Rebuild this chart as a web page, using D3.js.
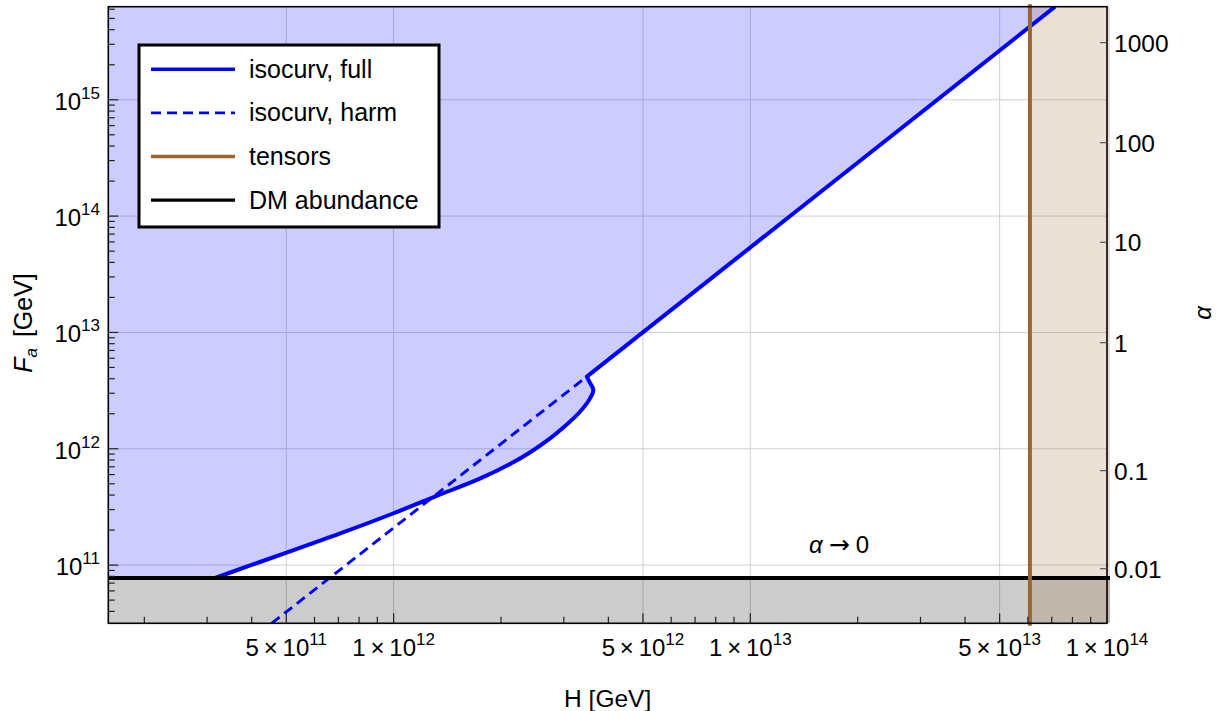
<!DOCTYPE html>
<html><head><meta charset="utf-8">
<script src="https://cdn.jsdelivr.net/npm/d3@7"></script>
<style>
body{margin:0;background:#fff;}
text{font-family:"Liberation Sans",Arial,sans-serif;fill:#000;}
</style></head><body>
<svg id="chart" width="1226" height="711"></svg>
<script>
// ---- data ----
const xDomain = [1.585e11, 1e14];           // H [GeV]
const yDomain = [3.16e10, 6.31e15];         // Fa [GeV]
// full isocurvature bound: curved part, then straight part to the top of the plot
const isoFullH  = [3.16e11, 3.96e11, 5.01e11, 7.08e11, 1.00e12, 1.32e12, 1.75e12, 2.12e12, 2.41e12, 2.74e12, 2.99e12, 3.33e12, 3.56e12, 3.63e12, 3.54e12, 3.48e12];
const isoFullFa = [7.75e10, 9.93e10, 1.28e11, 1.87e11, 2.79e11, 3.93e11, 5.56e11, 7.40e11, 9.29e11, 1.22e12, 1.52e12, 2.08e12, 2.74e12, 3.20e12, 3.75e12, 4.17e12];
const isoFullStraightH  = [3.48e12, 7.15e13];
const isoFullStraightFa = [4.17e12, 6.31e15];
const isoHarmH  = [4.55e11, 3.48e12];
const isoHarmFa = [3.16e10, 4.17e12];
const tensorH = 6.08e13;
const dmFa = 7.75e10;
const xTickValues   = [5e11, 1e12, 5e12, 1e13, 5e13, 1e14];
const xTickMantissa = ["5", "1", "5", "1", "5", "1"];
const xTickExponent = ["11", "12", "12", "13", "13", "14"];
const xGridValues   = [5e11, 1e12, 5e12, 1e13, 5e13];
const yTickValues   = [1e11, 1e12, 1e13, 1e14, 1e15];
const yTickExponent = ["11", "12", "13", "14", "15"];
const alphaTickLabels = ["1000", "100", "10", "1", "0.1", "0.01"];
const alphaTickFa     = [3.10e15, 4.28e14, 5.96e13, 8.17e12, 6.49e11, 9.31e10];
const legendLabels = ["isocurv, full", "isocurv, harm", "tensors", "DM abundance"];
const legendColors = ["#0000ff", "#0000ff", "#996633", "#000000"];
const legendDash   = [null, "10,6", null, null];

// ---- layout ----
const L = 108.3, R = 1107, T = 6.7, B = 623.3;
const svg = d3.select("#chart");
const x = d3.scaleLog().domain(xDomain).range([L, R]);
const y = d3.scaleLog().domain(yDomain).range([B, T]);

svg.append("rect").attr("width",1226).attr("height",711).attr("fill","#fff");

svg.append("defs").append("clipPath").attr("id","clip")
  .append("rect").attr("x",L).attr("y",T).attr("width",R-L+3).attr("height",B-T);

// grid lines
const grid = svg.append("g").attr("stroke","#d0d0d0").attr("stroke-width",1);
grid.selectAll("line.gx").data(xGridValues).enter().append("line")
  .attr("x1",d=>x(d)).attr("x2",d=>x(d)).attr("y1",T).attr("y2",B);
grid.selectAll("line.gy").data(yTickValues).enter().append("line")
  .attr("x1",L).attr("x2",R).attr("y1",d=>y(d)).attr("y2",d=>y(d));

const plot = svg.append("g").attr("clip-path","url(#clip)");

// full isocurvature path: smooth curved part + straight part
const fullPts = isoFullH.map((h,i)=>[h, isoFullFa[i]]);
const strPts = isoFullStraightH.map((h,i)=>[h, isoFullStraightFa[i]]);
const smooth = d3.line().x(d=>x(d[0])).y(d=>y(d[1])).curve(d3.curveCatmullRom.alpha(0.5));
const straight = d3.line().x(d=>x(d[0])).y(d=>y(d[1]));
const curvePath = smooth(fullPts) + straight(strPts).replace(/^M/, "L");
const lastPt = strPts[strPts.length-1];
const bluePath = curvePath +
  `L${x(lastPt[0])},${y(yDomain[1])}L${x(xDomain[0])},${y(yDomain[1])}L${x(xDomain[0])},${y(dmFa)}Z`;
plot.append("path").attr("d", bluePath).attr("fill","#0000ff").attr("fill-opacity",0.2);

// gray region below DM line
plot.append("rect").attr("x",x(xDomain[0])).attr("width",R-L+3)
  .attr("y",y(dmFa)).attr("height",y(yDomain[0])-y(dmFa))
  .attr("fill","#000").attr("fill-opacity",0.2);

// brown region right of tensor bound
plot.append("rect").attr("x",x(tensorH)).attr("width",x(xDomain[1])-x(tensorH)+3)
  .attr("y",y(yDomain[1])).attr("height",y(yDomain[0])-y(yDomain[1]))
  .attr("fill","#996633").attr("fill-opacity",0.2);

// harmonic isocurvature (dashed)
const harmPts = isoHarmH.map((h,i)=>[h, isoHarmFa[i]]);
plot.append("path").attr("d", straight(harmPts))
  .attr("fill","none").attr("stroke","#0000ff").attr("stroke-width",2.9).attr("stroke-dasharray","10,6");

// full isocurvature
plot.append("path").attr("d", curvePath)
  .attr("fill","none").attr("stroke","#0000ff").attr("stroke-width",4).attr("stroke-linejoin","round");

// DM abundance
plot.append("line").attr("x1",L).attr("x2",R+3).attr("y1",y(dmFa)).attr("y2",y(dmFa))
  .attr("stroke","#000").attr("stroke-width",4);

// tensors
svg.append("line").attr("x1",x(tensorH)).attr("x2",x(tensorH)).attr("y1",T-2.5).attr("y2",B+2.5)
  .attr("stroke","#996633").attr("stroke-width",4);

// frame
svg.append("rect").attr("x",L).attr("y",T).attr("width",R-L).attr("height",B-T)
  .attr("fill","none").attr("stroke","#000").attr("stroke-width",1.6);

// ticks
const tk = svg.append("g").attr("stroke","#222").attr("stroke-width",1.2);
const xMinor = x.ticks().filter(v=>v>=xDomain[0] && v<=xDomain[1]);
tk.selectAll("line.xt").data(xMinor).enter().append("line")
  .attr("x1",d=>x(d)).attr("x2",d=>x(d)).attr("y1",B)
  .attr("y2",d=> xTickValues.some(v=>Math.abs(v-d)/v<1e-6) ? B-10 : B-6.5);
const yMinor = y.ticks().filter(v=>v>=yDomain[0] && v<=yDomain[1]);
tk.selectAll("line.yt").data(yMinor).enter().append("line")
  .attr("y1",d=>y(d)).attr("y2",d=>y(d)).attr("x1",L)
  .attr("x2",d=> yTickValues.some(v=>Math.abs(v-d)/v<1e-6) ? L+10 : L+6.5);
svg.append("g").attr("stroke","#555").attr("stroke-width",1.2)
  .selectAll("line").data(alphaTickFa).enter().append("line")
  .attr("x1",R).attr("x2",R-7).attr("y1",d=>y(d)).attr("y2",d=>y(d));

// x tick labels
xTickValues.forEach((v,i)=>{
  const t = svg.append("text").attr("x",x(v)).attr("y",656).attr("text-anchor","middle").attr("font-size",24);
  t.append("tspan").text(xTickMantissa[i]);
  t.append("tspan").text("\u2009×\u2009");
  t.append("tspan").text("10");
  t.append("tspan").attr("font-size",17).attr("dy",-11).text(xTickExponent[i]);
});
// y tick labels
yTickValues.forEach((v,i)=>{
  const t = svg.append("text").attr("x",100).attr("y",y(v)+10).attr("text-anchor","end").attr("font-size",24);
  t.append("tspan").text("10");
  t.append("tspan").attr("font-size",17).attr("dy",-11).text(yTickExponent[i]);
});
// alpha tick labels
alphaTickFa.forEach((v,i)=>{
  svg.append("text").attr("x",1114).attr("y",y(v)+9).attr("font-size",24.5).text(alphaTickLabels[i]);
});

// axis labels
svg.append("text").attr("x",(L+R)/2).attr("y",707).attr("text-anchor","middle").attr("font-size",24.5).text("H [GeV]");
const yl = svg.append("text").attr("transform",`translate(32,${(T+B)/2+8}) rotate(-90)`)
  .attr("text-anchor","middle").attr("font-size",25);
yl.append("tspan").attr("font-style","italic").text("F");
yl.append("tspan").attr("font-size",17).attr("font-style","italic").attr("dy",5).text("a");
yl.append("tspan").attr("dy",-5).attr("dx",4).text(" [GeV]");
svg.append("text").attr("transform",`translate(1211,${(T+B)/2 - 2}) rotate(-90)`)
  .attr("text-anchor","middle").attr("font-size",24).attr("font-style","italic").text("α");

// alpha -> 0 annotation
const an = svg.append("text").attr("x",839).attr("y",553).attr("text-anchor","middle").attr("font-size",24);
an.append("tspan").attr("font-style","italic").text("α");
an.append("tspan").attr("font-family","DejaVu Sans").attr("font-size",25).attr("dx",6).text("→");
an.append("tspan").attr("dx",6).text("0");

// legend
const lg = svg.append("g");
lg.append("rect").attr("x",139).attr("y",45).attr("width",300).attr("height",182)
  .attr("fill","#fff").attr("stroke","#000").attr("stroke-width",3);
legendLabels.forEach((lab,i)=>{
  const yy = 69.3 + i*43.6;
  const ln = lg.append("line").attr("x1",151).attr("x2",235).attr("y1",yy).attr("y2",yy)
    .attr("stroke",legendColors[i]).attr("stroke-width", i===1?2.9:3.4);
  if (legendDash[i]) ln.attr("stroke-dasharray",legendDash[i]);
  lg.append("text").attr("x",249).attr("y",yy+8.5).attr("font-size",25).text(lab);
});
</script>
</body></html>
